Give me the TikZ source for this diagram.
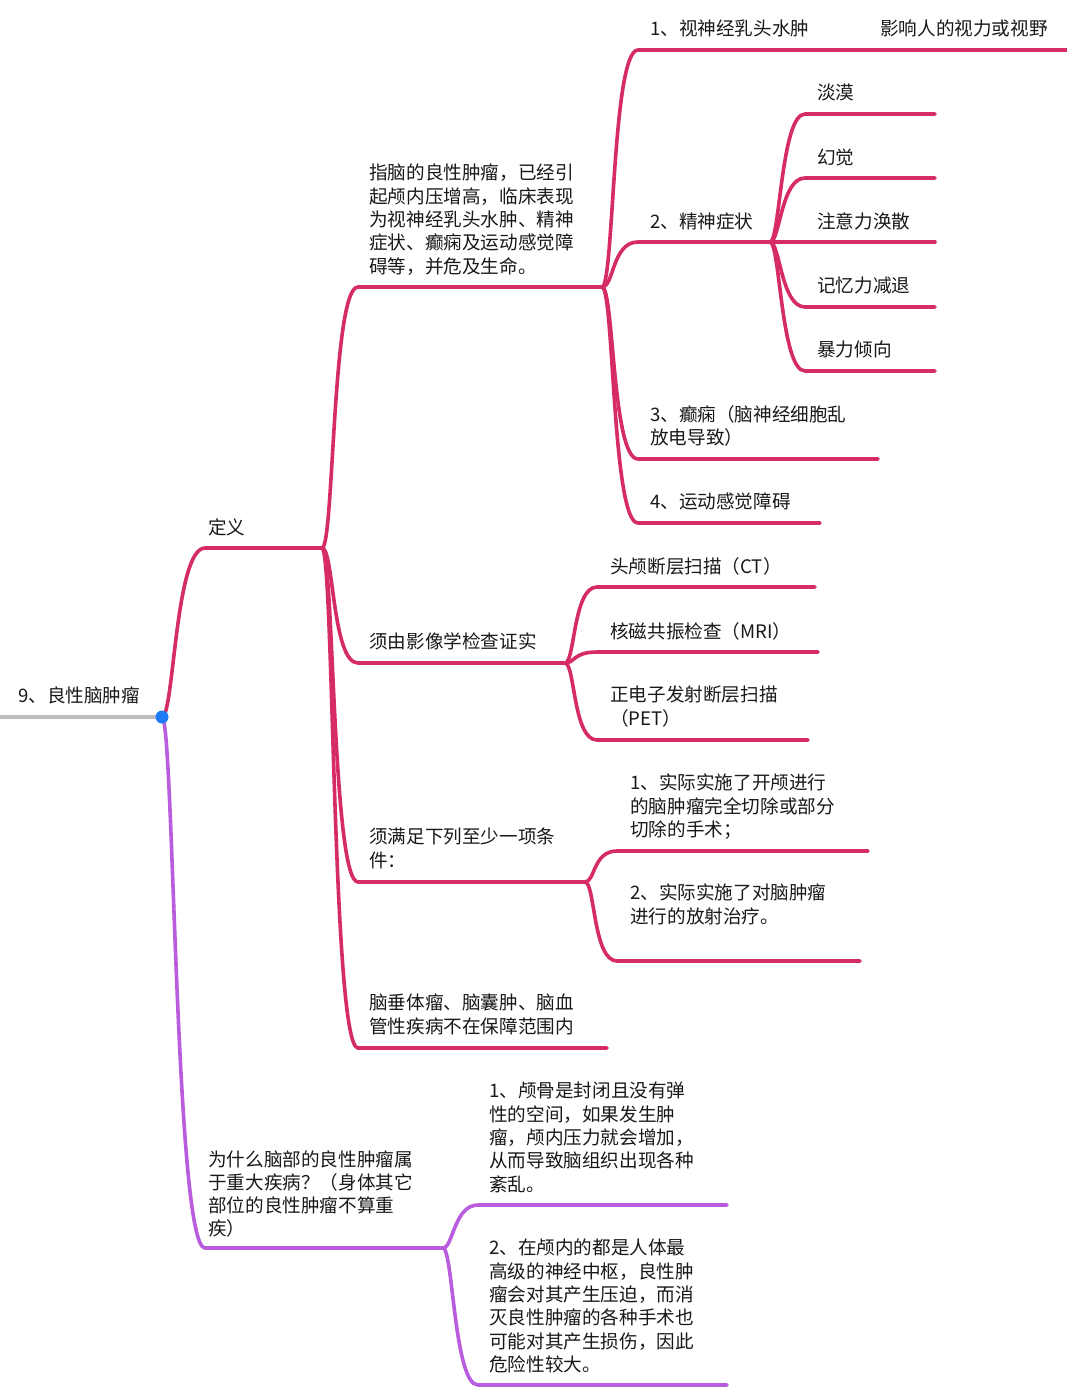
\documentclass[tikz,border=0pt]{standalone}
\usepackage{fontspec}
\setmainfont{Noto Sans CJK SC}
\definecolor{pkc}{RGB}{214,44,102}
\definecolor{puc}{RGB}{186,92,222}
\definecolor{grc}{RGB}{190,190,190}
\definecolor{blc}{RGB}{30,125,245}
\definecolor{txc}{RGB}{25,25,25}
\begin{document}
\begin{tikzpicture}[x=1pt,y=-1pt,
  pk/.style={draw=pkc,line width=3.6pt,line cap=round},
  pu/.style={draw=puc,line width=3.6pt,line cap=round},
  tx/.style={anchor=north west,inner sep=0pt,align=left,yshift=-4pt,font=\fontsize{18.6}{23.3}\selectfont,text=txc}]
\useasboundingbox (0,0) rectangle (1067,1399);
\fill[white] (0,0) rectangle (1067,1399);
% root
\coordinate (r) at (162,717);
\coordinate (r0) at (0,717);
\draw[line width=3.6pt,draw=grc] (r0) -- (r);
\node[tx] (rt) at (18,683) {9、良性脑肿瘤};
% level 1
\coordinate (a) at (205,548); \coordinate (ae) at (322,548);
\coordinate (b) at (205,1248); \coordinate (be) at (443,1248);
\draw[pk] (r) .. controls +(12,0) and +(-30,0) .. (a) -- (ae);
\draw[pu] (r) .. controls +(12,0) and +(-30,0) .. (b) -- (be);
\fill[blc] (r) circle (6.5);
\node[tx] (at) at (208,515) {定义};
\node[tx] (bt) at (208,1146) {为什么脑部的良性肿瘤属\\于重大疾病？（身体其它\\部位的良性肿瘤不算重\\疾）};
% level 2 under a
\coordinate (c1) at (358,287); \coordinate (c1e) at (602,287);
\coordinate (c2) at (358,663); \coordinate (c2e) at (565,663);
\coordinate (c3) at (358,882); \coordinate (c3e) at (585,882);
\coordinate (c4) at (358,1048); \coordinate (c4e) at (607,1048);
\foreach \c in {c1,c2,c3,c4} \draw[pk] (ae) .. controls +(12,0) and +(-26,0) .. (\c) -- (\c e);
\node[tx] (c1t) at (369,160) {指脑的良性肿瘤，已经引\\起颅内压增高，临床表现\\为视神经乳头水肿、精神\\症状、癫痫及运动感觉障\\碍等，并危及生命。};
\node[tx] (c2t) at (369,629) {须由影像学检查证实};
\node[tx] (c3t) at (369,824) {须满足下列至少一项条\\件：};
\node[tx] (c4t) at (369,990) {脑垂体瘤、脑囊肿、脑血\\管性疾病不在保障范围内};
% under c1
\coordinate (d1) at (638,50); \coordinate (d1e) at (1067,50);
\coordinate (d2) at (638,242); \coordinate (d2e) at (770,242);
\coordinate (d3) at (638,459); \coordinate (d3e) at (878,459);
\coordinate (d4) at (638,523); \coordinate (d4e) at (820,523);
\foreach \c in {d1,d2,d3,d4} \draw[pk] (c1e) .. controls +(12,0) and +(-26,0) .. (\c) -- (\c e);
\node[tx] (d1t) at (650,16) {1、视神经乳头水肿};
\node[tx] (d1u) at (880,16) {影响人的视力或视野};
\node[tx] (d2t) at (650,209) {2、精神症状};
\node[tx] (d3t) at (650,401) {3、癫痫（脑神经细胞乱\\放电导致）};
\node[tx] (d4t) at (650,489) {4、运动感觉障碍};
% under d2
\coordinate (e1) at (805,114); \coordinate (e1e) at (935,114);
\coordinate (e2) at (805,178); \coordinate (e2e) at (935,178);
\coordinate (e3) at (805,242); \coordinate (e3e) at (935,242);
\coordinate (e4) at (805,307); \coordinate (e4e) at (935,307);
\coordinate (e5) at (805,371); \coordinate (e5e) at (935,371);
\foreach \c in {e1,e2,e3,e4,e5} \draw[pk] (d2e) .. controls +(10,0) and +(-24,0) .. (\c) -- (\c e);
\node[tx] (e1t) at (817,80) {淡漠};
\node[tx] (e2t) at (817,145) {幻觉};
\node[tx] (e3t) at (817,209) {注意力涣散};
\node[tx] (e4t) at (817,273) {记忆力减退};
\node[tx] (e5t) at (817,337) {暴力倾向};
% under c2
\coordinate (f1) at (597,587); \coordinate (f1e) at (815,587);
\coordinate (f2) at (597,652); \coordinate (f2e) at (818,652);
\coordinate (f3) at (597,740); \coordinate (f3e) at (808,740);
\foreach \c in {f1,f2,f3} \draw[pk] (c2e) .. controls +(10,0) and +(-24,0) .. (\c) -- (\c e);
\node[tx] (f1t) at (610,553) {头颅断层扫描（CT）};
\node[tx] (f2t) at (610,618) {核磁共振检查（MRI）};
\node[tx] (f3t) at (610,682) {正电子发射断层扫描\\（PET）};
% under c3
\coordinate (g1) at (617,851); \coordinate (g1e) at (868,851);
\coordinate (g2) at (617,961); \coordinate (g2e) at (860,961);
\foreach \c in {g1,g2} \draw[pk] (c3e) .. controls +(10,0) and +(-24,0) .. (\c) -- (\c e);
\node[tx] (g1t) at (630,770) {1、实际实施了开颅进行\\的脑肿瘤完全切除或部分\\切除的手术；};
\node[tx] (g2t) at (630,880) {2、实际实施了对脑肿瘤\\进行的放射治疗。};
% under b
\coordinate (h1) at (478,1205); \coordinate (h1e) at (727,1205);
\coordinate (h2) at (478,1385); \coordinate (h2e) at (727,1385);
\foreach \c in {h1,h2} \draw[pu] (be) .. controls +(10,0) and +(-24,0) .. (\c) -- (\c e);
\node[tx] (h1t) at (489,1078) {1、颅骨是封闭且没有弹\\性的空间，如果发生肿\\瘤，颅内压力就会增加，\\从而导致脑组织出现各种\\紊乱。};
\node[tx] (h2t) at (489,1235) {2、在颅内的都是人体最\\高级的神经中枢，良性肿\\瘤会对其产生压迫，而消\\灭良性肿瘤的各种手术也\\可能对其产生损伤，因此\\危险性较大。};
\end{tikzpicture}
\end{document}
